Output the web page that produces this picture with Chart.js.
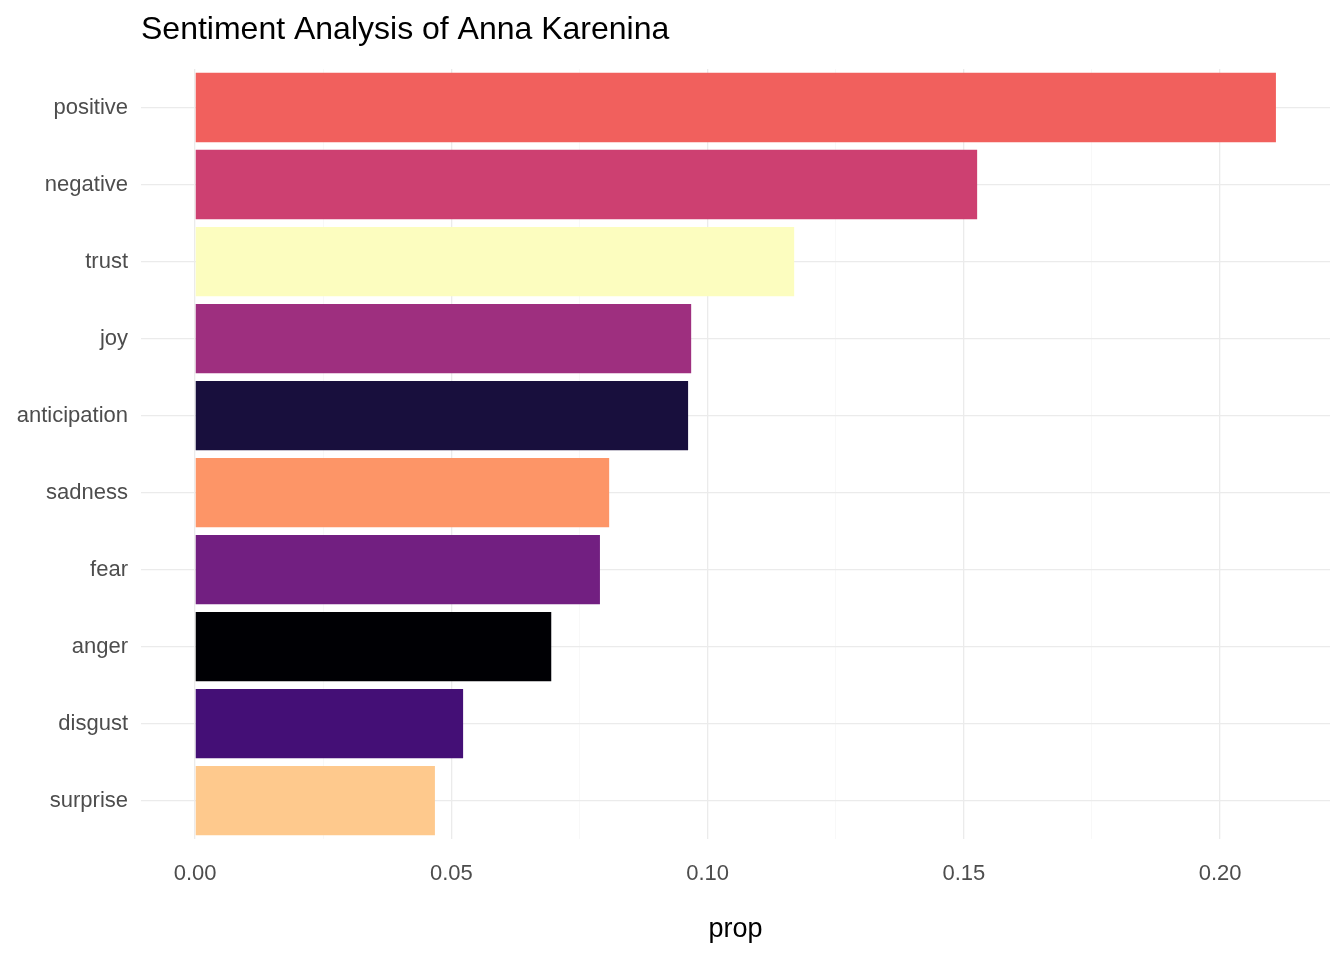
<!DOCTYPE html>
<html><head><meta charset="utf-8">
<script src="https://cdn.jsdelivr.net/npm/chart.js@4"></script>
<style>html,body{margin:0;background:#fff}#w{width:1344px;height:960px}</style>
</head><body><div id="w"><canvas id="c"></canvas></div>
<script>
const categories=["positive","negative","trust","joy","anticipation","sadness","fear","anger","disgust","surprise"];
const values=[0.2109,0.1526,0.1169,0.0968,0.0962,0.0808,0.0790,0.0695,0.0523,0.0468];
const colors=["#F1605D","#CD4071","#FCFDBF","#9E2F7F","#180F3D","#FD9567","#721F81","#000004","#440F76","#FEC98D"];
const xTicks=[0,0.025,0.05,0.075,0.1,0.125,0.15,0.175,0.2];
const F='"Liberation Sans", Arial';
const titlePlugin={id:'t',afterDraw(ch){const c=ch.ctx;c.save();c.font='32px '+F;c.fillStyle='#000';c.textBaseline='middle';c.fillText('Sentiment Analysis of Anna Karenina',ch.chartArea.left,30);c.restore();}};
new Chart(document.getElementById('c'),{type:'bar',
data:{labels:categories,datasets:[{data:values,backgroundColor:colors,categoryPercentage:0.9,barPercentage:1}]},
options:{indexAxis:'y',responsive:true,maintainAspectRatio:false,animation:false,
layout:{padding:{top:69,right:14,left:0,bottom:6}},
plugins:{legend:{display:false},tooltip:{enabled:false}},
scales:{
x:{type:'linear',min:-0.01055,max:0.22145,border:{display:false},
 afterBuildTicks(s){s.ticks=xTicks.map(v=>({value:v}));},
 grid:{drawTicks:false,color:c=>(Math.round(c.tick.value*1000)%50===0)?'#ebebeb':'#f5f5f5',lineWidth:c=>(Math.round(c.tick.value*1000)%50===0)?1.3:0.7},
 ticks:{padding:22,color:'#4d4d4d',font:{size:22,family:F},autoSkip:false,maxRotation:0,
  callback:v=>(Math.round(v*1000)%50===0)?v.toFixed(2):''},
 title:{display:true,text:'prop',color:'#000',font:{size:27,family:F},padding:{top:4,bottom:8}}},
y:{border:{display:false},grid:{offset:false,drawTicks:false,color:'#ebebeb',lineWidth:1.3},
 afterFit(s){s.width=141;},
 ticks:{padding:13,color:'#4d4d4d',font:{size:22,family:F}}}
}},plugins:[titlePlugin]});
</script></body></html>
